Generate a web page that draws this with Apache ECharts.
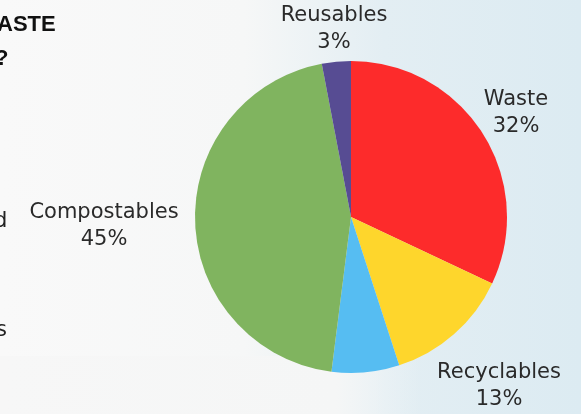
<!DOCTYPE html>
<html>
<head>
<meta charset="utf-8">
<script src="https://cdn.jsdelivr.net/npm/echarts@6/dist/echarts.min.js"></script>
<style>
  html, body { margin: 0; padding: 0; }
  #chart { width: 581px; height: 414px; }
</style>
</head>
<body>
<div id="chart"></div>
<script>
// Waste stream composition (percent of total)
const categories = ['Waste', 'Recyclables', 'Other', 'Compostables', 'Reusables'];
const shares = [32, 13, 7, 45, 3];
const sliceColors = ['#fd2b2b', '#fed62c', '#56bdf2', '#80b45f', '#574c93'];
const labelled = [true, true, false, true, true];

// where each label block is centred
const labelAnchors = [[516, 113], [499, 386], [0, 0], [104, 226], [334, 29]];

const chart = echarts.init(document.getElementById('chart'), null, { renderer: 'canvas' });

const pieData = categories.map((name, i) => ({
  name: name,
  value: shares[i],
  itemStyle: { color: sliceColors[i] },
  label: { show: labelled[i] }
}));

chart.setOption({
  backgroundColor: {
    type: 'linear', x: 0, y: 0, x2: 1, y2: 0,
    colorStops: [
      { offset: 0, color: '#f9f9f9' },
      { offset: 0.42, color: '#f6f7f7' },
      { offset: 0.66, color: '#e3eef3' },
      { offset: 1, color: '#dcebf2' }
    ]
  },
  graphic: [
    {
      type: 'rect', z: -1, shape: { x: 0, y: 356, width: 420, height: 60 },
      style: {
        fill: {
          type: 'linear', x: 0, y: 0, x2: 1, y2: 0,
          colorStops: [
            { offset: 0, color: '#f7f7f7' },
            { offset: 0.8, color: '#f5f6f6' },
            { offset: 1, color: 'rgba(240,245,247,0)' }
          ]
        }
      }
    },
    { type: 'text', left: -3, top: 14, style: { text: 'ASTE', font: '900 22px "Liberation Sans", sans-serif', fill: '#111' } },
    { type: 'text', left: -5, top: 48, style: { text: '?', font: '900 22px "Liberation Sans", sans-serif', fill: '#111' } },
    { type: 'text', left: -6, top: 211, style: { text: 'd', font: '21px "DejaVu Sans", sans-serif', fill: '#222' } },
    { type: 'text', left: -4, top: 320, style: { text: 's', font: '21px "DejaVu Sans", sans-serif', fill: '#222' } }
  ],
  series: [{
    type: 'pie',
    center: [351, 217],
    radius: [0, 156],
    startAngle: 90,
    clockwise: true,
    animation: false,
    silent: true,
    data: pieData,
    label: {
      position: 'outside',
      formatter: '{b}\n{c}%',
      fontFamily: '"DejaVu Sans", sans-serif',
      fontSize: 21,
      lineHeight: 27,
      color: '#2a2a2a',
      align: 'center',
      overflow: 'none',
      width: 220
    },
    labelLine: { show: false },
    labelLayout: function (params) {
      const p = labelAnchors[params.dataIndex];
      return { x: p[0], y: p[1], align: 'center', verticalAlign: 'middle' };
    }
  }]
});
</script>
</body>
</html>
